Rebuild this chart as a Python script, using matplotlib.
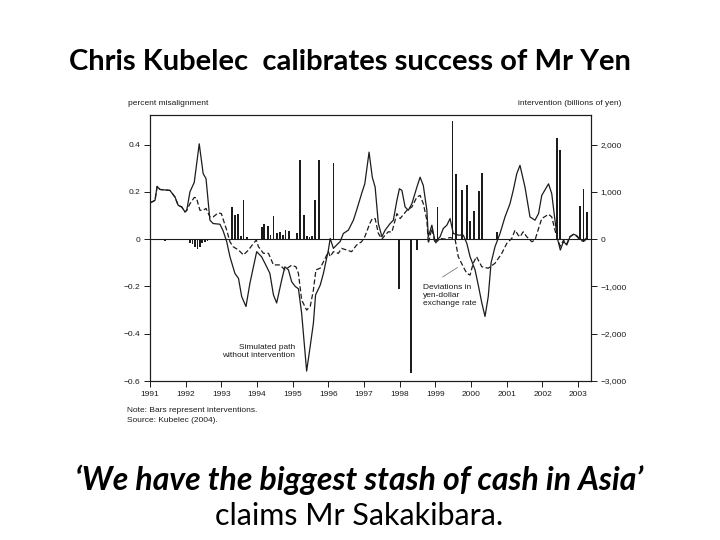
import numpy as np
import matplotlib
matplotlib.use("Agg")
import matplotlib.pyplot as plt

# deviations in yen-dollar rate (solid) - percent misalignment
t_actual = [1991.00, 1991.14, 1991.20, 1991.28, 1991.56, 1991.70, 1991.79, 1991.89, 1991.98, 1992.03,
            1992.12, 1992.24, 1992.38, 1992.49, 1992.57, 1992.68, 1992.77, 1992.96, 1993.05, 1993.15,
            1993.24, 1993.38, 1993.48, 1993.57, 1993.69, 1993.80, 1993.94, 1993.99, 1994.13, 1994.27,
            1994.36, 1994.46, 1994.55, 1994.69, 1994.78, 1994.88, 1994.97, 1995.07, 1995.16, 1995.25,
            1995.39, 1995.49, 1995.58, 1995.64, 1995.77, 1995.86, 1996.00, 1996.05, 1996.14, 1996.23,
            1996.33, 1996.42, 1996.56, 1996.70, 1996.79, 1996.93, 1997.02, 1997.14, 1997.23, 1997.31,
            1997.40, 1997.50, 1997.59, 1997.73, 1997.82, 1997.92, 1997.99, 1998.06, 1998.15, 1998.24,
            1998.34, 1998.48, 1998.57, 1998.66, 1998.76, 1998.80, 1998.90, 1998.99, 1999.13, 1999.22,
            1999.32, 1999.41, 1999.50, 1999.64, 1999.78, 1999.88, 1999.97, 2000.11, 2000.20, 2000.30,
            2000.39, 2000.48, 2000.56, 2000.67, 2000.81, 2000.95, 2001.09, 2001.18, 2001.28, 2001.37,
            2001.51, 2001.65, 2001.79, 2001.89, 2001.98, 2002.17, 2002.26, 2002.35, 2002.42, 2002.50,
            2002.59, 2002.68, 2002.77, 2002.87, 2002.96, 2003.05, 2003.15, 2003.24]
actual = [0.153, 0.164, 0.223, 0.210, 0.206, 0.178, 0.143, 0.136, 0.115, 0.122,
          0.200, 0.240, 0.403, 0.277, 0.256, 0.080, 0.066, 0.063, 0.035, -0.011,
          -0.074, -0.145, -0.166, -0.243, -0.285, -0.187, -0.088, -0.053, -0.075, -0.117,
          -0.145, -0.236, -0.270, -0.173, -0.117, -0.130, -0.180, -0.200, -0.210, -0.313,
          -0.558, -0.453, -0.355, -0.236, -0.195, -0.145, -0.046, 0.003, -0.039, -0.025,
          -0.010, 0.024, 0.038, 0.080, 0.122, 0.192, 0.234, 0.368, 0.262, 0.220,
          0.066, 0.010, 0.038, 0.066, 0.080, 0.164, 0.213, 0.206, 0.136, 0.122,
          0.150, 0.220, 0.262, 0.227, 0.122, 0.010, 0.059, -0.011, 0.010, 0.045,
          0.059, 0.087, 0.024, 0.017, 0.017, -0.018, -0.074, -0.130, -0.194, -0.270,
          -0.327, -0.243, -0.100, -0.032, 0.024, 0.094, 0.150, 0.206, 0.277, 0.312,
          0.220, 0.094, 0.080, 0.108, 0.185, 0.234, 0.192, 0.080, 0.003, -0.046,
          -0.010, -0.025, 0.010, 0.021, 0.015, 0.000, -0.006, 0.005]

# simulated path without intervention (dashed)
t_sim = [1991.00, 1991.14, 1991.20, 1991.28, 1991.56, 1991.70, 1991.79, 1991.89, 1991.98, 1992.03,
         1992.12, 1992.24, 1992.30, 1992.40, 1992.49, 1992.57, 1992.68, 1992.77, 1992.91, 1993.00,
         1993.08, 1993.15, 1993.24, 1993.33, 1993.48, 1993.62, 1993.76, 1993.90, 1993.98, 1994.04,
         1994.18, 1994.32, 1994.46, 1994.64, 1994.78, 1994.97, 1995.09, 1995.16, 1995.25, 1995.39,
         1995.49, 1995.58, 1995.65, 1995.77, 1995.91, 1996.00, 1996.05, 1996.14, 1996.28, 1996.37,
         1996.51, 1996.65, 1996.79, 1996.93, 1997.02, 1997.16, 1997.23, 1997.31, 1997.40, 1997.50,
         1997.59, 1997.68, 1997.78, 1997.92, 1998.01, 1998.20, 1998.34, 1998.48, 1998.57, 1998.66,
         1998.76, 1998.80, 1998.90, 1998.99, 1999.13, 1999.27, 1999.41, 1999.55, 1999.64, 1999.78,
         1999.88, 1999.97, 2000.06, 2000.15, 2000.30, 2000.48, 2000.67, 2000.86, 2001.00, 2001.14,
         2001.23, 2001.32, 2001.37, 2001.46, 2001.56, 2001.70, 2001.79, 2001.89, 2001.98, 2002.17,
         2002.26, 2002.35, 2002.42, 2002.50, 2002.59, 2002.68, 2002.77, 2002.87, 2002.96, 2003.05,
         2003.15, 2003.24]
simulated = [0.153, 0.164, 0.223, 0.210, 0.206, 0.178, 0.143, 0.136, 0.115, 0.122,
             0.150, 0.176, 0.175, 0.122, 0.122, 0.130, 0.094, 0.094, 0.111, 0.108,
             0.070, 0.038, -0.011, -0.032, -0.046, -0.067, -0.046, -0.018, -0.004, -0.032,
             -0.060, -0.060, -0.109, -0.109, -0.130, -0.110, -0.117, -0.145, -0.257, -0.300,
             -0.285, -0.215, -0.130, -0.123, -0.081, -0.053, -0.074, -0.053, -0.060, -0.039,
             -0.046, -0.053, -0.025, -0.011, 0.010, 0.066, 0.087, 0.087, 0.024, 0.000,
             0.017, 0.031, 0.030, 0.108, 0.087, 0.122, 0.136, 0.178, 0.185, 0.150,
             0.080, -0.018, 0.045, -0.018, 0.003, 0.000, 0.007, 0.000, -0.074, -0.117,
             -0.145, -0.152, -0.102, -0.074, -0.117, -0.123, -0.102, -0.060, -0.018, 0.003,
             0.038, 0.017, 0.010, 0.031, 0.010, -0.011, -0.004, 0.045, 0.087, 0.105,
             0.094, 0.038, 0.000, -0.030, -0.005, -0.020, 0.010, 0.020, 0.012, -0.003,
             -0.010, 0.000]

# interventions, billions of yen
t_bars = [1991.42, 1991.50, 1991.62,
          1992.12, 1992.19, 1992.26, 1992.33, 1992.40, 1992.46, 1992.54, 1992.61,
          1993.29, 1993.38, 1993.47, 1993.55, 1993.62, 1993.72,
          1994.13, 1994.20, 1994.30, 1994.38, 1994.46, 1994.55, 1994.64, 1994.72, 1994.80, 1994.90,
          1995.13, 1995.21, 1995.32, 1995.39, 1995.47, 1995.54, 1995.63, 1995.74, 1996.14,
          1997.98, 1998.31, 1998.48,
          1999.06, 1999.48, 1999.57, 1999.74, 1999.88, 1999.97, 2000.08, 2000.23, 2000.30, 2000.72,
          2002.40, 2002.49, 2003.05, 2003.15, 2003.24]
interv = [-30, -20, -25,
          -90, -110, -160, -200, -170, -80, -60, -40,
          690, 520, 540, 60, 820, 40,
          260, 320, 270, 80, 480, 120, 150, 90, 190, 170,
          120, 1670, 505, 70, 50, 60, 830, 1680, 1610,
          -1050, -2830, -220,
          680, 2500, 1370, 1030, 1140, 380, 590, 1010, 1390, 150,
          2130, 1890, 695, 1070, 575]

years = list(range(1991, 2004))
left_ticks = [0.4, 0.2, 0, -0.2, -0.4, -0.6]
left_labels = ["0.4", "0.2", "0", "\u22120.2", "\u22120.4", "\u22120.6"]
right_ticks = [2000, 1000, 0, -1000, -2000, -3000]
right_labels = ["2,000", "1,000", "0", "\u22121,000", "\u22122,000", "\u22123,000"]

plt.rcParams['font.family'] = ['Liberation Sans', 'DejaVu Sans']
ink = '#1c1c1c'

fig = plt.figure(figsize=(7.2, 5.4), dpi=100)
ax = fig.add_axes([150/720, 1 - 381/540, 441/720, 266/540])
ax2 = ax.twinx()

ax2.bar(t_bars, interv, width=0.05, color=ink, linewidth=0)
ax2.set_ylim(-3000, 2625)

ax.plot(t_actual, actual, color=ink, lw=0.9, zorder=3)
ax.plot(t_sim, simulated, color=ink, lw=0.9, dashes=(4, 2), zorder=3)
ax.axhline(0, color=ink, lw=0.8, zorder=2)
ax.set_ylim(-0.6, 0.525)
ax.set_xlim(1991, 2003.36)
ax.set_zorder(ax2.get_zorder() + 1)
ax.patch.set_visible(False)

ax.set_xticks(years)
ax.set_xticklabels([str(y) for y in years])
ax.set_yticks(left_ticks)
ax.set_yticklabels(left_labels)
ax2.set_yticks(right_ticks)
ax2.set_yticklabels(right_labels)
for a in (ax, ax2):
    a.tick_params(direction='out', length=4, width=0.7, labelsize=6, colors=ink, pad=3)
    for s in a.spines.values():
        s.set_linewidth(0.8)
        s.set_color(ink)

ax.text(-0.05, 1.03, "percent misalignment", transform=ax.transAxes, fontsize=6,
        color=ink, ha='left', va='bottom')
ax2.text(1.07, 1.03, "intervention (billions of yen)", transform=ax.transAxes, fontsize=6,
         color=ink, ha='right', va='bottom')

ax.text(1995.07, -0.475, "Simulated path\nwithout intervention", fontsize=6, color=ink,
        ha='right', va='center', linespacing=1.2)
ax.text(1998.65, -0.19, "Deviations in\nyen-dollar\nexchange rate", fontsize=6, color=ink,
        ha='left', va='top', linespacing=1.2)
ax.plot([1999.2, 1999.62], [-0.16, -0.12], color='#666666', lw=0.5)

fig.text(127/720, 1 - 410/540, "Note: Bars represent interventions.", fontsize=6, color=ink, va='center')
fig.text(127/720, 1 - 421/540, "Source: Kubelec (2004).", fontsize=6, color=ink, va='center')

fig.text(350/720, 1 - 62/540, "Chris Kubelec  calibrates success of Mr Yen", fontsize=21,
         family='Lato', weight='bold', ha='center', va='center')
fig.text(359/720, 1 - 480/540, "\u2018We have the biggest stash of cash in Asia\u2019", fontsize=23,
         family='Lato', weight='bold', style='italic', ha='center', va='center')
fig.text(359/720, 1 - 516/540, "claims Mr Sakakibara.", fontsize=22,
         family='Lato', ha='center', va='center')

fig.savefig("out.png", dpi=100)
